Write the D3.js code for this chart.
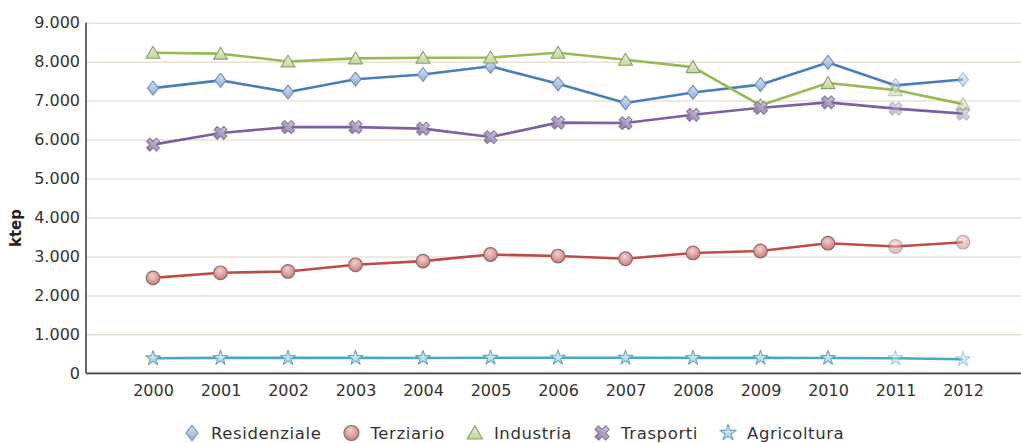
<!DOCTYPE html>
<html>
<head>
<meta charset="utf-8">
<script src="https://cdn.jsdelivr.net/npm/d3@7"></script>
<style>
  body { margin: 0; background: #fff; }
  svg { display: block; }
</style>
</head>
<body>
<svg id="chart" width="1021" height="443"></svg>
<script>
// Consumi finali di energia per settore (ktep)
const years = [2000, 2001, 2002, 2003, 2004, 2005, 2006, 2007, 2008, 2009, 2010, 2011, 2012];

const residenziale = [7320, 7520, 7220, 7550, 7670, 7880, 7430, 6940, 7210, 7410, 7980, 7390, 7540];
const terziario    = [2450, 2580, 2615, 2785, 2880, 3050, 3010, 2940, 3090, 3140, 3340, 3255, 3365];
const industria    = [8230, 8205, 8005, 8085, 8100, 8105, 8230, 8050, 7860, 6880, 7450, 7270, 6910];
const trasporti    = [5870, 6170, 6320, 6320, 6280, 6065, 6435, 6425, 6635, 6815, 6955, 6795, 6665];
const agricoltura  = [385, 395, 395, 395, 393, 398, 400, 398, 395, 395, 393, 385, 360];

const seriesNames = ["Residenziale", "Terziario", "Industria", "Trasporti", "Agricoltura"];
const yTicks = [0, 1000, 2000, 3000, 4000, 5000, 6000, 7000, 8000, 9000];
const yDomain = [0, 9000];
const yLabel = "ktep";

const seriesValues = [residenziale, terziario, industria, trasporti, agricoltura];

// Visual style for each series: line colour and marker look
const styles = [
  { line: "#4a7ebb", shape: "diamond",  fill: "url(#gBlue)",   stroke: "#6f8fbd" },
  { line: "#be4b48", shape: "circle",   fill: "url(#gRed)",    stroke: "#8c6c6c" },
  { line: "#98b954", shape: "triangle", fill: "url(#gGreen)",  stroke: "#8aa166" },
  { line: "#7d60a0", shape: "cross",    fill: "url(#gPurple)", stroke: "#8a7c9c" },
  { line: "#46aac5", shape: "star",     fill: "url(#gCyan)",   stroke: "#6ea8b8" }
];

const plot = { left: 86, right: 1021, top: 22.7, bottom: 373.3 };

const svg = d3.select("#chart");
const defs = svg.append("defs");

function linearGrad(id, c1, c2) {
  const g = defs.append("linearGradient").attr("id", id)
    .attr("x1", 0).attr("y1", 0).attr("x2", 0).attr("y2", 1);
  g.append("stop").attr("offset", "0%").attr("stop-color", c1);
  g.append("stop").attr("offset", "100%").attr("stop-color", c2);
}
function radialGrad(id, c1, c2) {
  const g = defs.append("radialGradient").attr("id", id)
    .attr("cx", "45%").attr("cy", "35%").attr("r", "65%");
  g.append("stop").attr("offset", "0%").attr("stop-color", c1);
  g.append("stop").attr("offset", "100%").attr("stop-color", c2);
}
linearGrad("gBlue", "#d6e3f3", "#8eaed6");
radialGrad("gRed", "#f3d0cf", "#c97e7c");
linearGrad("gGreen", "#eaf1dc", "#c3d69b");
linearGrad("gPurple", "#cfc4dc", "#8f7bab");
linearGrad("gCyan", "#e2f2f6", "#a3d4e2");

const itLocale = d3.formatLocale({ decimal: ",", thousands: ".", grouping: [3], currency: ["€", ""] });
const fmt = itLocale.format(",");

const x = d3.scalePoint().domain(years).range([153, 963]);
const y = d3.scaleLinear().domain(yDomain).range([plot.bottom, plot.top]);

// Horizontal gridlines and y tick labels
const yAxis = d3.axisLeft(y)
  .tickValues(yTicks)
  .tickFormat(fmt)
  .tickSize(-(plot.right - plot.left))
  .tickPadding(6);

const gy = svg.append("g")
  .attr("transform", `translate(${plot.left},0)`)
  .call(yAxis);
gy.select(".domain").remove();
gy.selectAll(".tick line")
  .attr("stroke", "#e7e1d6")
  .attr("stroke-width", 1.5);
gy.selectAll(".tick text")
  .attr("fill", "#333")
  .style("font-family", "'DejaVu Sans', Verdana, sans-serif")
  .style("font-size", "16px");

// X tick labels
const xAxis = d3.axisBottom(x).tickSize(0).tickPadding(11.3);
const gx = svg.append("g")
  .attr("transform", `translate(0,${plot.bottom})`)
  .call(xAxis);
gx.select(".domain").remove();
gx.selectAll(".tick text")
  .attr("fill", "#333")
  .style("font-family", "'DejaVu Sans', Verdana, sans-serif")
  .style("font-size", "16px");

// Axis lines
svg.append("line")
  .attr("x1", plot.left).attr("x2", plot.left)
  .attr("y1", plot.top).attr("y2", plot.bottom)
  .attr("stroke", "#444").attr("stroke-width", 1.6);
svg.append("line")
  .attr("x1", plot.left).attr("x2", plot.right)
  .attr("y1", plot.bottom).attr("y2", plot.bottom)
  .attr("stroke", "#444").attr("stroke-width", 1.8);

// Y axis title
svg.append("text")
  .attr("transform", `translate(21,228) rotate(-90)`)
  .attr("text-anchor", "middle")
  .attr("fill", "#222")
  .style("font-family", "'DejaVu Sans', Verdana, sans-serif")
  .style("font-weight", "bold")
  .style("font-size", "15px")
  .text(yLabel);

// Marker path generators
const markerPath = {
  diamond: (s) => `M0,${-7 * s}L${5.5 * s},0L0,${7 * s}L${-5.5 * s},0Z`,
  triangle: (s) => `M0,${-6.5 * s}L${7 * s},${5.5 * s}L${-7 * s},${5.5 * s}Z`,
  cross: (s) => d3.symbol(d3.symbolCross, 105 * s * s)(),
  star: (s) => d3.symbol(d3.symbolStar, 68 * s * s)()
};

function drawMarker(g, st, scale) {
  if (st.shape === "circle") {
    g.append("circle").attr("r", 6.8 * scale)
      .attr("fill", st.fill).attr("stroke", st.stroke).attr("stroke-width", 1.2);
  } else {
    const p = g.append("path").attr("d", markerPath[st.shape](scale))
      .attr("fill", st.fill).attr("stroke", st.stroke).attr("stroke-width", 1.1)
      .attr("stroke-linejoin", "round");
    if (st.shape === "cross") p.attr("transform", "rotate(45)");
  }
}

const line = d3.line()
  .x((d, i) => x(years[i]))
  .y(d => y(d));

// Lines first, then markers on top
const seriesG = svg.append("g");
seriesValues.forEach((vals, si) => {
  seriesG.append("path")
    .datum(vals)
    .attr("fill", "none")
    .attr("stroke", styles[si].line)
    .attr("stroke-width", 2.6)
    .attr("stroke-linejoin", "round")
    .attr("d", line);
});
seriesValues.forEach((vals, si) => {
  vals.forEach((v, i) => {
    const g = seriesG.append("g")
      .attr("transform", `translate(${x(years[i])},${y(v)})`)
      .attr("opacity", i >= years.length - 2 ? 0.55 : 1);
    drawMarker(g, styles[si], 1);
  });
});

// Legend
const legend = svg.append("g").attr("transform", "translate(0,433)");
let lx = 192;
seriesNames.forEach((name, si) => {
  const item = legend.append("g").attr("transform", `translate(${lx},0)`);
  drawMarker(item.append("g"), styles[si], 1.1);
  const t = item.append("text")
    .attr("x", 19).attr("y", 5.5)
    .attr("fill", "#333")
    .style("font-family", "'DejaVu Sans', Verdana, sans-serif")
    .style("font-size", "16.5px")
    .style("letter-spacing", "0.6px")
    .text(name);
  lx += 19 + t.node().getComputedTextLength() + 30;
});
</script>
</body>
</html>
